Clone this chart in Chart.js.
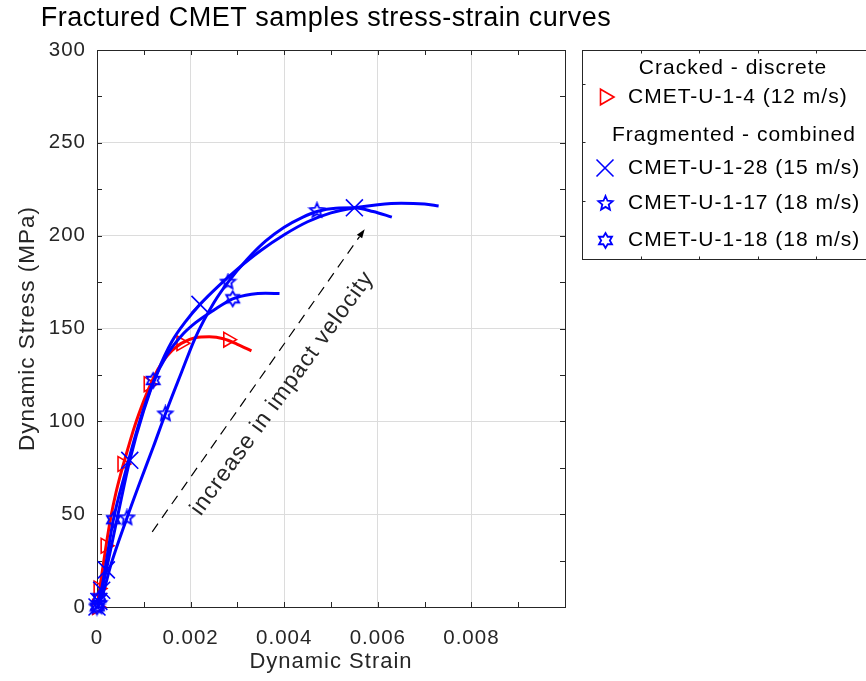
<!DOCTYPE html>
<html>
<head>
<meta charset="utf-8">
<title>Fractured CMET samples stress-strain curves</title>
<script src="https://cdn.jsdelivr.net/npm/chart.js@4.4.1/dist/chart.umd.min.js"></script>
<style>
  html, body { margin: 0; padding: 0; background: #fff; }
  #wrap { width: 866px; height: 681px; }
</style>
</head>
<body>
<div id="wrap"><canvas id="stressChart" width="866" height="681"></canvas></div>
<script>
// values: strain (-) vs dynamic stress (MPa)
const strain4 = [0, 0.0001, 0.0002, 0.0003, 0.0004, 0.0005, 0.0006, 0.0008, 0.001, 0.0012, 0.0014, 0.0016, 0.0018, 0.0021, 0.0024, 0.0027, 0.003, 0.0033];
const stress4 = [0, 17, 34, 49, 61, 71, 80, 97, 111, 123, 132, 138, 142, 145, 145.5, 144.5, 141.5, 138];
const mark4Strain = [0, 0.00003, 0.00018, 0.00054, 0.0011, 0.0018, 0.0028];
const mark4Stress = [0, 10, 33, 77, 120, 142, 144];

const strain28 = [0, 0.0001, 0.0002, 0.0004, 0.0007, 0.001, 0.0013, 0.0016, 0.0019, 0.0022, 0.0026, 0.003, 0.0035, 0.004, 0.0045, 0.005, 0.0055, 0.006, 0.0065, 0.007, 0.0073];
const stress28 = [0, 9, 20, 44, 79, 106, 127, 143, 154, 163, 173, 182, 192, 200.5, 207.5, 212.3, 215, 216.7, 217.5, 217, 216];
const mark28Strain = [0, 0.00004, 0.0001, 0.0002, 0.0007, 0.0022, 0.0055];
const mark28Stress = [0, 3, 9, 20, 79, 163, 215];

const strain17 = [0, 0.0001, 0.0003, 0.00064, 0.0009, 0.0012, 0.00146, 0.0018, 0.0021, 0.0025, 0.0028, 0.0032, 0.0036, 0.004, 0.0044, 0.0047, 0.0051, 0.0055, 0.0059, 0.0063];
const stress17 = [0, 5, 23, 48, 66, 86, 104, 126, 145, 164, 175, 187, 197, 204.5, 210, 213, 214.8, 215, 213, 210];
const mark17Strain = [0, 0.00005, 0.00064, 0.00146, 0.0028, 0.0047];
const mark17Stress = [0, 2, 48, 104, 175, 213.5];

const strain18 = [0, 0.0001, 0.00035, 0.0006, 0.0009, 0.0012, 0.0015, 0.0018, 0.0021, 0.0025, 0.0029, 0.0033, 0.0036, 0.0039];
const stress18 = [0, 10, 47, 72, 99, 121, 136, 146, 153, 160, 166, 168.5, 169, 168.8];
const mark18Strain = [0, 0.00005, 0.00035, 0.0012, 0.0029];
const mark18Stress = [0, 5, 47, 122, 166];

const xTicks = [0, 0.002, 0.004, 0.006, 0.008];
const xTickLabels = ['0', '0.002', '0.004', '0.006', '0.008'];
const xMinor = [0.001, 0.003, 0.005, 0.007, 0.009];
const yTicks = [0, 50, 100, 150, 200, 250, 300];
const yTickLabels = ['0', '50', '100', '150', '200', '250', '300'];
const yMinor = [25, 75, 125, 175, 225, 275];

const titleText = 'Fractured CMET samples stress-strain curves';
const seriesLabels = ['CMET-U-1-4 (12 m/s)', 'CMET-U-1-28 (15 m/s)', 'CMET-U-1-17 (18 m/s)', 'CMET-U-1-18 (18 m/s)'];
const groupLabels = ['Cracked - discrete', 'Fragmented - combined'];
const arrowFrom = [0.00118, 40.5];
const arrowTo = [0.00572, 203.5];
const noteText = 'increase in impact velocity';
const noteAt = [0.00396, 115];

const FONT = '"Liberation Sans", Arial, Helvetica, sans-serif';
const RED = '#ff0000';
const BLUE = '#0000ff';
const INK = '#262626';

Chart.defaults.font.family = FONT;
Chart.defaults.color = INK;

// open star markers (MATLAB pentagram / hexagram)
function starMarker(points, outer, innerRatio, color) {
  const size = Math.ceil(outer * 2 + 4);
  const c = document.createElement('canvas');
  c.width = size; c.height = size;
  const g = c.getContext('2d');
  g.strokeStyle = color;
  g.lineWidth = 1.8;
  g.beginPath();
  for (let k = 0; k < points * 2; k++) {
    const r = k % 2 === 0 ? outer : outer * innerRatio;
    const a = -Math.PI / 2 + k * Math.PI / points;
    const px = size / 2 + r * Math.cos(a);
    const py = size / 2 + r * Math.sin(a);
    if (k === 0) g.moveTo(px, py); else g.lineTo(px, py);
  }
  g.closePath();
  g.stroke();
  return c;
}
const pentagram = starMarker(5, 7.5, 0.45, BLUE);
const hexagram = starMarker(6, 7.5, 0.577, BLUE);

function pts(xs, ys) {
  return xs.map((x, i) => ({ x: x, y: ys[i] }));
}

function curve(xs, ys, color, order) {
  return {
    data: pts(xs, ys),
    showLine: true,
    borderColor: color,
    borderWidth: 3,
    pointRadius: 0,
    cubicInterpolationMode: 'monotone',
    order: order
  };
}

function marks(xs, ys, color, style, radius, rotation, order) {
  return {
    data: pts(xs, ys),
    showLine: false,
    pointStyle: style,
    pointRadius: radius,
    pointRotation: rotation,
    pointBorderColor: color,
    pointBackgroundColor: 'rgba(0,0,0,0)',
    pointBorderWidth: 1.6,
    clip: false,
    order: order
  };
}

// letter spacing so the Arial metrics come close to the exported MATLAB text
const spacing = {
  id: 'spacing',
  beforeDraw(chart) {
    chart.ctx.letterSpacing = '1px';
  }
};

// MATLAB style box with inward ticks on all four sides
const frameTicks = {
  id: 'frameTicks',
  beforeDatasetsDraw(chart) {
    const { ctx, chartArea: a, scales: { x, y } } = chart;
    ctx.save();
    ctx.strokeStyle = INK;
    ctx.lineWidth = 1;
    ctx.beginPath();
    xTicks.concat(xMinor).forEach(v => {
      const px = Math.round(x.getPixelForValue(v)) + 0.5;
      ctx.moveTo(px, a.bottom); ctx.lineTo(px, a.bottom - 5);
      ctx.moveTo(px, a.top); ctx.lineTo(px, a.top + 5);
    });
    yTicks.concat(yMinor).forEach(v => {
      const py = Math.round(y.getPixelForValue(v)) + 0.5;
      ctx.moveTo(a.left, py); ctx.lineTo(a.left + 5, py);
      ctx.moveTo(a.right, py); ctx.lineTo(a.right - 5, py);
    });
    ctx.stroke();
    ctx.strokeRect(Math.round(a.left) + 0.5, Math.round(a.top) + 0.5, Math.round(a.right - a.left), Math.round(a.bottom - a.top));
    ctx.restore();
  }
};

// dashed arrow with rotated note
const arrowNote = {
  id: 'arrowNote',
  afterDatasetsDraw(chart) {
    const { ctx, scales: { x, y } } = chart;
    const x0 = x.getPixelForValue(arrowFrom[0]), y0 = y.getPixelForValue(arrowFrom[1]);
    const x1 = x.getPixelForValue(arrowTo[0]), y1 = y.getPixelForValue(arrowTo[1]);
    const ang = Math.atan2(y1 - y0, x1 - x0);
    const hl = 9, hw = 3.2;
    const bx = x1 - hl * Math.cos(ang), by = y1 - hl * Math.sin(ang);
    ctx.save();
    ctx.strokeStyle = '#000';
    ctx.lineWidth = 1.2;
    ctx.setLineDash([10, 7]);
    ctx.beginPath();
    ctx.moveTo(x0, y0);
    ctx.lineTo(bx, by);
    ctx.stroke();
    ctx.setLineDash([]);
    ctx.fillStyle = '#000';
    ctx.beginPath();
    ctx.moveTo(x1, y1);
    ctx.lineTo(bx + hw * Math.sin(ang), by - hw * Math.cos(ang));
    ctx.lineTo(bx - hw * Math.sin(ang), by + hw * Math.cos(ang));
    ctx.closePath();
    ctx.fill();

    ctx.translate(x.getPixelForValue(noteAt[0]), y.getPixelForValue(noteAt[1]));
    ctx.rotate(-54 * Math.PI / 180);
    ctx.font = '23px ' + FONT;
    ctx.fillStyle = INK;
    ctx.textAlign = 'center';
    ctx.textBaseline = 'middle';
    ctx.fillText(noteText, 0, 0);
    ctx.restore();
  }
};

// title drawn by hand so it is not squeezed into the plot width
const plotTitle = {
  id: 'plotTitle',
  afterDraw(chart) {
    const ctx = chart.ctx;
    ctx.save();
    ctx.letterSpacing = '0.5px';
    ctx.font = '27px ' + FONT;
    ctx.fillStyle = '#000';
    ctx.textAlign = 'center';
    ctx.textBaseline = 'middle';
    ctx.fillText(titleText, 326, 19);
    ctx.restore();
  }
};

function legendIcon(ctx, kind, cx, cy) {
  ctx.save();
  ctx.lineWidth = 1.6;
  if (kind === 'tri') {
    const r = 9;
    ctx.strokeStyle = RED;
    ctx.beginPath();
    ctx.moveTo(cx + r, cy);
    ctx.lineTo(cx - 0.5 * r, cy + 0.866 * r);
    ctx.lineTo(cx - 0.5 * r, cy - 0.866 * r);
    ctx.closePath();
    ctx.stroke();
  } else if (kind === 'x') {
    const d = 8.5;
    ctx.strokeStyle = BLUE;
    ctx.beginPath();
    ctx.moveTo(cx - d, cy - d); ctx.lineTo(cx + d, cy + d);
    ctx.moveTo(cx + d, cy - d); ctx.lineTo(cx - d, cy + d);
    ctx.stroke();
  } else {
    const img = kind === 'penta' ? pentagram : hexagram;
    ctx.drawImage(img, Math.round(cx - img.width / 2), Math.round(cy - img.height / 2));
  }
  ctx.restore();
}

const legendBox = {
  id: 'legendBox',
  afterDraw(chart) {
    const ctx = chart.ctx;
    const L = 582.5, T = 50.5, W = 320, H = 209;
    ctx.save();
    ctx.fillStyle = '#fff';
    ctx.fillRect(L, T, W, H);
    ctx.strokeStyle = INK;
    ctx.lineWidth = 1;
    ctx.strokeRect(L, T, W, H);
    ctx.beginPath();
    for (let k = 1; k <= 4; k++) {
      const tx = Math.round(L + 58.4 * k) + 0.5;
      ctx.moveTo(tx, T); ctx.lineTo(tx, T + 3);
      ctx.moveTo(tx, T + H); ctx.lineTo(tx, T + H - 3);
    }
    for (let k = 1; k <= 3; k++) {
      const ty = Math.round(T + H - 58.6 * k) + 0.5;
      ctx.moveTo(L, ty); ctx.lineTo(L + 3, ty);
    }
    ctx.stroke();

    ctx.font = '21px ' + FONT;
    ctx.fillStyle = '#000';
    ctx.textBaseline = 'middle';
    ctx.textAlign = 'center';
    ctx.fillText(groupLabels[0], 733, 68);
    ctx.fillText(groupLabels[1], 734, 135);
    ctx.textAlign = 'left';
    const rows = [[97, 'tri'], [168, 'x'], [203, 'penta'], [240, 'hexa']];
    rows.forEach((r, i) => {
      legendIcon(ctx, r[1], 605, r[0]);
      ctx.fillText(seriesLabels[i], 628, r[0]);
    });
    ctx.restore();
  }
};

const ctx = document.getElementById('stressChart').getContext('2d');
const stressChart = new Chart(ctx, {
  type: 'scatter',
  data: {
    datasets: [
      curve(strain4, stress4, RED, 20),
      marks(mark4Strain, mark4Stress, RED, 'triangle', 8.5, 90, 19),
      curve(strain28, stress28, BLUE, 18),
      marks(mark28Strain, mark28Stress, BLUE, 'crossRot', 12, 0, 17),
      curve(strain17, stress17, BLUE, 16),
      marks(mark17Strain, mark17Stress, BLUE, pentagram, 8, 0, 15),
      curve(strain18, stress18, BLUE, 14),
      marks(mark18Strain, mark18Stress, BLUE, hexagram, 8, 0, 13)
    ]
  },
  options: {
    responsive: false,
    animation: false,
    devicePixelRatio: 1,
    layout: { padding: { top: 50, right: 301, bottom: 0, left: 0 } },
    plugins: {
      legend: { display: false },
      tooltip: { enabled: false },
      title: { display: false }
    },
    scales: {
      x: {
        type: 'linear',
        min: 0,
        max: 0.01,
        afterFit(scale) { scale.height = 74; },
        afterBuildTicks(scale) { scale.ticks = xTicks.map(v => ({ value: v })); },
        ticks: {
          autoSkip: false,
          maxRotation: 0,
          padding: 19,
          color: INK,
          font: { size: 20.5 },
          callback: (v, i) => xTickLabels[i]
        },
        grid: { color: '#dcdcdc', lineWidth: 1, drawTicks: false },
        border: { display: true, color: INK, width: 1 },
        title: {
          display: true,
          text: 'Dynamic Strain',
          color: INK,
          font: { size: 22 },
          padding: { top: 0, bottom: 5.4 }
        }
      },
      y: {
        type: 'linear',
        min: 0,
        max: 300,
        afterFit(scale) { scale.width = 97; },
        afterBuildTicks(scale) { scale.ticks = yTicks.map(v => ({ value: v })); },
        ticks: {
          autoSkip: false,
          padding: 11,
          color: INK,
          font: { size: 20.5 },
          callback: (v, i) => yTickLabels[i]
        },
        grid: { color: '#dcdcdc', lineWidth: 1, drawTicks: false },
        border: { display: true, color: INK, width: 1 },
        title: {
          display: true,
          text: 'Dynamic Stress (MPa)',
          color: INK,
          font: { size: 22.5 },
          padding: { top: 14, bottom: 0 }
        }
      }
    }
  },
  plugins: [spacing, frameTicks, arrowNote, plotTitle, legendBox]
});
</script>
</body>
</html>
